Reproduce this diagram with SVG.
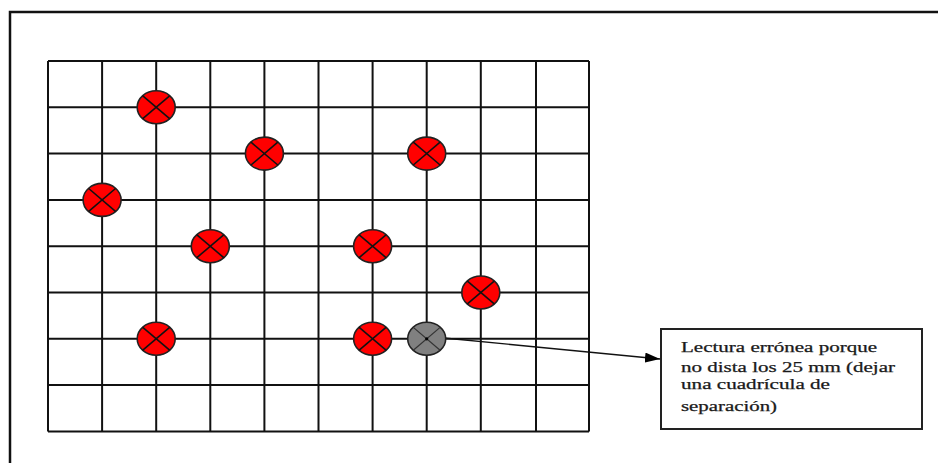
<svg xmlns="http://www.w3.org/2000/svg" width="938" height="463" viewBox="0 0 938 463">
  <defs>
    <style>
      .grid line { stroke: #111; stroke-width: 2; }
      .mark ellipse { stroke: #222; stroke-width: 1.6; }
      .red ellipse { fill: #ff0000; }
      .gray ellipse { fill: #808080; }
      .note rect { fill: #fff; stroke: #222; stroke-width: 2; }
      .note text { font-family: "Liberation Serif", "Times New Roman", "DejaVu Serif", serif; font-size: 14px; fill: #1a1a1a; stroke: #1a1a1a; stroke-width: 0.25; }
    </style>
    <marker id="arrow" markerWidth="15" markerHeight="10" refX="15" refY="5" orient="auto" markerUnits="userSpaceOnUse">
      <path d="M0,0 L15,5 L0,10 Z" fill="#000"/>
    </marker>
    <g id="x-mark" stroke="#111" stroke-width="1.6">
      <line x1="-13.4" y1="-11.4" x2="13.4" y2="11.4"/>
      <line x1="-13.4" y1="11.4" x2="13.4" y2="-11.4"/>
    </g>
    <g id="x-mark-gray" stroke="#333" stroke-width="1.2">
      <line x1="-13.4" y1="-11.4" x2="13.4" y2="11.4"/>
      <line x1="-13.4" y1="11.4" x2="13.4" y2="-11.4"/>
    </g>
  </defs>

  <rect width="938" height="463" fill="#fff"/>
  <rect id="frame" x="10" y="12" width="1000" height="500" fill="none" stroke="#111" stroke-width="2.5"/>

  <g id="grid" class="grid">
    <line x1="48" y1="61" x2="48" y2="431.5"/>
    <line x1="102.1" y1="61" x2="102.1" y2="431.5"/>
    <line x1="156.2" y1="61" x2="156.2" y2="431.5"/>
    <line x1="210.3" y1="61" x2="210.3" y2="431.5"/>
    <line x1="264.4" y1="61" x2="264.4" y2="431.5"/>
    <line x1="318.5" y1="61" x2="318.5" y2="431.5"/>
    <line x1="372.6" y1="61" x2="372.6" y2="431.5"/>
    <line x1="426.7" y1="61" x2="426.7" y2="431.5"/>
    <line x1="480.8" y1="61" x2="480.8" y2="431.5"/>
    <line x1="536" y1="61" x2="536" y2="431.5"/>
    <line x1="589" y1="61" x2="589" y2="431.5"/>
    <line x1="48" y1="61" x2="589" y2="61"/>
    <line x1="48" y1="107.3" x2="589" y2="107.3"/>
    <line x1="48" y1="153.6" x2="589" y2="153.6"/>
    <line x1="48" y1="199.9" x2="589" y2="199.9"/>
    <line x1="48" y1="246.2" x2="589" y2="246.2"/>
    <line x1="48" y1="292.5" x2="589" y2="292.5"/>
    <line x1="48" y1="338.8" x2="589" y2="338.8"/>
    <line x1="48" y1="385.1" x2="589" y2="385.1"/>
    <line x1="48" y1="431.5" x2="589" y2="431.5"/>
  </g>

  <g id="connectors">
    <line x1="444" y1="338" x2="660" y2="359" stroke="#111" stroke-width="1.4" marker-end="url(#arrow)"/>
  </g>

  <g id="m1" class="mark red" transform="translate(156.2,107.3)"><ellipse rx="19" ry="16.5"/><use href="#x-mark"/></g>
  <g id="m2" class="mark red" transform="translate(264.4,153.6)"><ellipse rx="19" ry="16.5"/><use href="#x-mark"/></g>
  <g id="m3" class="mark red" transform="translate(426.7,153.6)"><ellipse rx="19" ry="16.5"/><use href="#x-mark"/></g>
  <g id="m4" class="mark red" transform="translate(102.1,199.9)"><ellipse rx="19" ry="16.5"/><use href="#x-mark"/></g>
  <g id="m5" class="mark red" transform="translate(210.3,246.2)"><ellipse rx="19" ry="16.5"/><use href="#x-mark"/></g>
  <g id="m6" class="mark red" transform="translate(372.6,246.2)"><ellipse rx="19" ry="16.5"/><use href="#x-mark"/></g>
  <g id="m7" class="mark red" transform="translate(480.8,292.5)"><ellipse rx="19" ry="16.5"/><use href="#x-mark"/></g>
  <g id="m8" class="mark red" transform="translate(156.2,338.8)"><ellipse rx="19" ry="16.5"/><use href="#x-mark"/></g>
  <g id="m9" class="mark red" transform="translate(372.6,338.8)"><ellipse rx="19" ry="16.5"/><use href="#x-mark"/></g>
  <g id="m10" class="mark gray" transform="translate(426.7,338.8)"><ellipse rx="19" ry="16.5"/><use href="#x-mark-gray"/><circle r="1.6" fill="#000"/></g>

  <g id="note" class="note">
    <rect x="661" y="329" width="261" height="100"/>
    <text x="681" y="352" textLength="196" lengthAdjust="spacingAndGlyphs">Lectura errónea porque</text>
    <text x="681" y="372" textLength="214" lengthAdjust="spacingAndGlyphs">no dista los 25 mm (dejar</text>
    <text x="681" y="389" textLength="149" lengthAdjust="spacingAndGlyphs">una cuadrícula de</text>
    <text x="681" y="411" textLength="96" lengthAdjust="spacingAndGlyphs">separación)</text>
  </g>
</svg>
